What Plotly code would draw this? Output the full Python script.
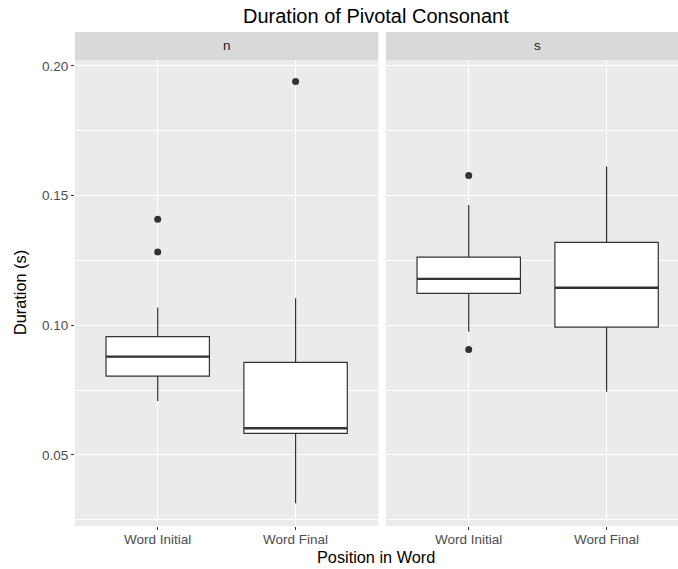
import plotly.graph_objects as go

# Facets (pivotal consonant) and word positions
facets = ["n", "s"]
positions = ["Word Initial", "Word Final"]

# Box statistics per facet, ordered as in `positions`
q1 = {"n": [0.0804, 0.0583], "s": [0.1123, 0.0993]}
median = {"n": [0.0879, 0.0603], "s": [0.1179, 0.1145]}
q3 = {"n": [0.0956, 0.0857], "s": [0.1263, 0.1320]}
lower_whisker = {"n": [0.0708, 0.0314], "s": [0.0975, 0.0744]}
upper_whisker = {"n": [0.1069, 0.1104], "s": [0.1464, 0.1612]}

# Outlying observations: (position index, duration)
outliers = {
    "n": [(0, 0.1409), (0, 0.1283), (1, 0.1940)],
    "s": [(0, 0.1578), (0, 0.0907)],
}

y_ticks = [0.05, 0.10, 0.15, 0.20]
y_minor = [0.025, 0.075, 0.125, 0.175]

W, H = 678, 569
BOX_W = 0.75
INK = "#333333"
FONT = "Liberation Sans, Arial, sans-serif"
TICK_SIZE = 13.5
AXIS_TITLE_SIZE = 16.3
TITLE_SIZE = 20.0

# Pixel layout of the two panels
px_panels = [(75, 378.3), (386, 678)]
px_top, px_bottom = 60, 526
strip_top = 32
x_ranges = [[0.4, 2.6], [0.4, 2.518]]
y_range = [0.0226, 0.2023]

fig = go.Figure()

for i, f in enumerate(facets):
    xa = "x" if i == 0 else "x2"
    ya = "y" if i == 0 else "y2"
    xs = [k + 1 for k in range(len(positions))]
    fig.add_trace(go.Box(
        x=xs, q1=q1[f], median=median[f], q3=q3[f],
        lowerfence=lower_whisker[f], upperfence=upper_whisker[f],
        width=BOX_W, whiskerwidth=0, boxpoints=False,
        fillcolor="white", line=dict(color=INK, width=1.2),
        xaxis=xa, yaxis=ya, showlegend=False, hoverinfo="skip",
    ))
    # thicker median bars
    for k, m in enumerate(median[f]):
        c = k + 1
        fig.add_trace(go.Scatter(
            x=[c - BOX_W / 2, c + BOX_W / 2], y=[m, m], mode="lines",
            line=dict(color=INK, width=2.4), xaxis=xa, yaxis=ya,
            showlegend=False, hoverinfo="skip",
        ))
    ox = [p + 1 for p, _ in outliers[f]]
    oy = [v for _, v in outliers[f]]
    fig.add_trace(go.Scatter(
        x=ox, y=oy, mode="markers",
        marker=dict(color=INK, size=7, line=dict(width=0)),
        xaxis=xa, yaxis=ya, showlegend=False, hoverinfo="skip",
    ))

def xdom(p):
    return [p[0] / W, p[1] / W]

ydom = [1 - px_bottom / H, 1 - px_top / H]

common_x = dict(
    tickmode="array", tickvals=[1, 2], ticktext=positions,
    showgrid=True, gridcolor="white", gridwidth=1.1, zeroline=False,
    ticks="outside", ticklen=3, tickwidth=1, tickcolor=INK,
    ticklabelstandoff=-2,
    tickfont=dict(family=FONT, size=TICK_SIZE, color="#4D4D4D"),
    showline=False, fixedrange=True,
)
common_y = dict(
    range=y_range, tickmode="array", tickvals=y_ticks,
    showgrid=True, gridcolor="white", gridwidth=1.1, zeroline=False,
    minor=dict(tickvals=y_minor, showgrid=True, gridcolor="white",
               gridwidth=0.55, ticks=""),
    showline=False, fixedrange=True,
)

fig.update_layout(
    width=W, height=H,
    margin=dict(l=0, r=0, t=0, b=0),
    paper_bgcolor="white", plot_bgcolor="#EBEBEB",
    xaxis=dict(domain=xdom(px_panels[0]), range=x_ranges[0], anchor="y", **common_x),
    xaxis2=dict(domain=xdom(px_panels[1]), range=x_ranges[1], anchor="y2", **common_x),
    yaxis=dict(domain=ydom, anchor="x", ticks="outside", ticklen=3, tickwidth=1,
               tickcolor=INK, tickformat=".2f",
               tickfont=dict(family=FONT, size=TICK_SIZE, color="#4D4D4D"), **common_y),
    yaxis2=dict(domain=ydom, anchor="x2", showticklabels=False, ticks="", **common_y),
    font=dict(family=FONT),
)

# Facet strips
shapes = []
annotations = []
for i, f in enumerate(facets):
    x0, x1 = px_panels[i]
    shapes.append(dict(
        type="rect", xref="paper", yref="paper",
        x0=x0 / W, x1=x1 / W, y0=1 - px_top / H, y1=1 - strip_top / H,
        fillcolor="#D9D9D9", line=dict(width=0), layer="below",
    ))
    annotations.append(dict(
        text=f, xref="paper", yref="paper",
        x=(x0 + (x0 + 303.3)) / 2 / W if i == 1 else (x0 + x1) / 2 / W,
        y=1 - (strip_top + px_top) / 2 / H, xanchor="center", yanchor="middle",
        showarrow=False, font=dict(family=FONT, size=TICK_SIZE, color="#1A1A1A"),
    ))

annotations += [
    dict(text="Duration of Pivotal Consonant", xref="paper", yref="paper",
         x=376 / W, y=1 - 16 / H, xanchor="center", yanchor="middle",
         showarrow=False, font=dict(family=FONT, size=TITLE_SIZE, color="black")),
    dict(text="Position in Word", xref="paper", yref="paper",
         x=376 / W, y=1 - 557 / H, xanchor="center", yanchor="middle",
         showarrow=False, font=dict(family=FONT, size=AXIS_TITLE_SIZE, color="black")),
    dict(text="Duration (s)", xref="paper", yref="paper",
         x=20 / W, y=1 - 293 / H, xanchor="center", yanchor="middle",
         textangle=-90, showarrow=False,
         font=dict(family=FONT, size=AXIS_TITLE_SIZE, color="black")),
]

fig.update_layout(shapes=shapes, annotations=annotations)

fig.write_html("out.html")
